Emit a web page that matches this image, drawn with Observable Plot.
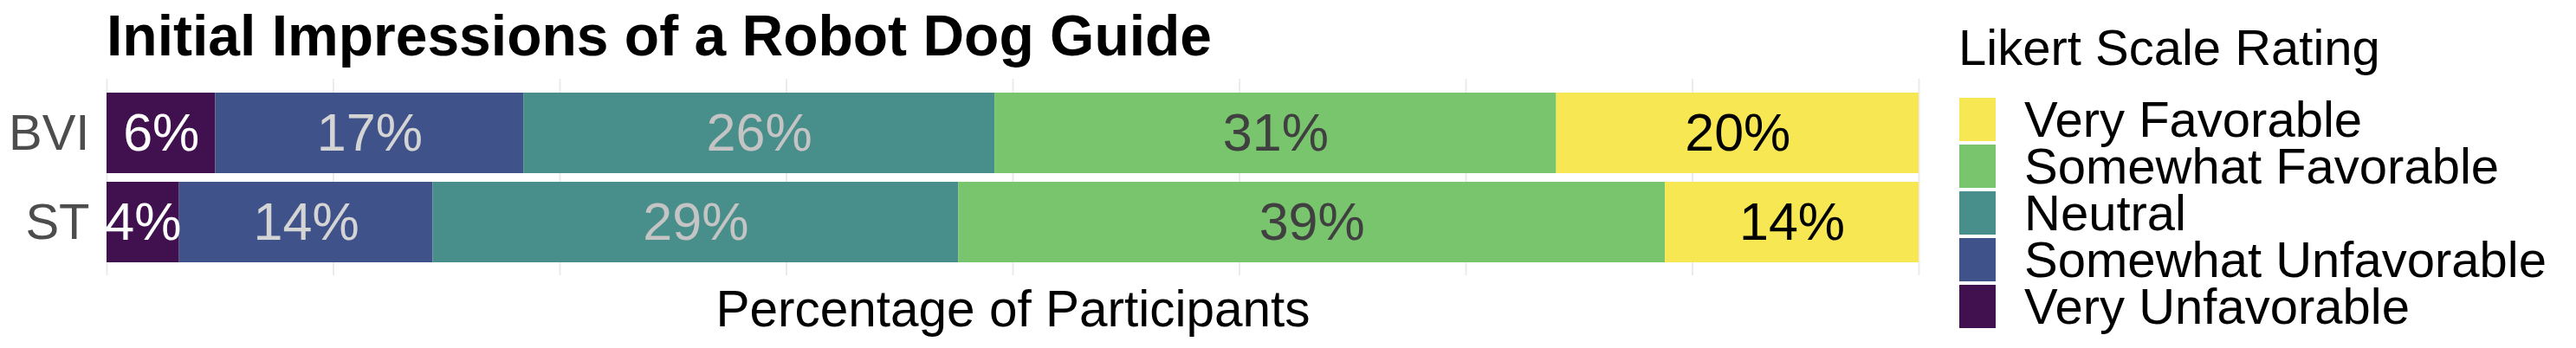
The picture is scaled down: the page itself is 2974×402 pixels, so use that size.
<!DOCTYPE html>
<html>
<head>
<meta charset="utf-8">
<script src="https://cdn.jsdelivr.net/npm/d3@7"></script>
<script src="https://cdn.jsdelivr.net/npm/@observablehq/plot@0.6"></script>
<style>
  html, body { margin: 0; padding: 0; background: #fff; }
  #wrap { position: relative; width: 2974px; height: 402px; overflow: hidden; font-family: "Liberation Sans", Arial, sans-serif; }
  #title { position: absolute; left: 123px; top: 8px; font: bold 66px/1 "Liberation Sans", Arial, sans-serif; color: #000; white-space: nowrap; }
  #chart { position: absolute; left: 0; top: 0; }
  #legendTitle { position: absolute; left: 2261px; top: 26px; font: 58px/1 "Liberation Sans", Arial, sans-serif; color: #000; white-space: nowrap; }
  #legend { position: absolute; left: 2262px; top: 113px; }
  #legend .lg-swatches { font: 58px/1 "Liberation Sans", Arial, sans-serif !important; color: #000; margin: 0 !important; min-height: 0 !important; }
  #legend .lg-swatches .lg-swatch { height: 50px !important; padding: 0 !important; margin: 0 0 4px 0 !important; display: flex !important; align-items: center !important; line-height: 50px !important; overflow: visible !important; }
  #legend .lg-swatches .lg-swatch > svg { margin-right: 33px !important; flex-shrink: 0; }
  #legend .lg-swatches .lg-swatch-label { overflow: visible !important; line-height: 50px !important; }
</style>
</head>
<body>
<div id="wrap">
  <div id="title">Initial Impressions of a Robot Dog Guide</div>
  <div id="chart"></div>
  <div id="legendTitle">Likert Scale Rating</div>
  <div id="legend"></div>
</div>
<script>
// ---- data ----
const groups = ["BVI", "ST"];
const ratings = ["Very Unfavorable", "Somewhat Unfavorable", "Neutral", "Somewhat Favorable", "Very Favorable"];
const bviValues = [6, 17, 26, 31, 20];
const stValues = [4, 14, 29, 39, 14];
const gridTicks = [0, 12.5, 25, 37.5, 50, 62.5, 75, 87.5, 100];
const xLabel = "Percentage of Participants";

// ---- styles ----
const fillColors = ["#41114F", "#40528A", "#488E8A", "#79C56E", "#F7E752"];
const labelColors = ["#ffffff", "#d4d4d4", "#c4c4c4", "#404040", "#000000"];

const rows = [];
groups.forEach((g, gi) => {
  const vals = gi === 0 ? bviValues : stValues;
  ratings.forEach((r, ri) => rows.push({group: g, rating: r, value: vals[ri], idx: ri}));
});

const chart = Plot.plot({
  width: 2240,
  height: 402,
  marginTop: 91,
  marginBottom: 84,
  marginLeft: 123,
  marginRight: 25,
  style: {fontFamily: "Liberation Sans, Arial, sans-serif", fontSize: "56px", background: "transparent"},
  x: {domain: [0, 100]},
  y: {domain: groups, paddingInner: 0.1, paddingOuter: 0.15, label: null},
  color: {domain: ratings, range: fillColors},
  marks: [
    Plot.ruleX(gridTicks, {stroke: "#ebebeb", strokeWidth: 2}),
    Plot.barX(rows, Plot.stackX({x: "value", y: "group", fill: "rating", order: ratings})),
    Plot.text(rows, Plot.stackX({
      x: "value", y: "group", z: "rating", order: ratings,
      text: d => d.value + "%",
      fill: d => labelColors[d.idx],
      fontSize: 61
    })),
    Plot.axisY({tickSize: 0, tickPadding: 20, fill: "#4d4d4d", fontSize: 58, label: null}),
    Plot.axisX({ticks: [], tickSize: 0, label: xLabel, labelAnchor: "center", labelOffset: 58, labelArrow: "none", fill: "#000", fontSize: 58.5})
  ]
});
document.getElementById("chart").appendChild(chart);

const legend = Plot.legend({
  color: {domain: ratings.slice().reverse(), range: fillColors.slice().reverse(), type: "ordinal"},
  legend: "swatches",
  columns: 1,
  swatchWidth: 42,
  swatchHeight: 50,
  className: "lg"
});
document.getElementById("legend").appendChild(legend);
</script>
</body>
</html>
